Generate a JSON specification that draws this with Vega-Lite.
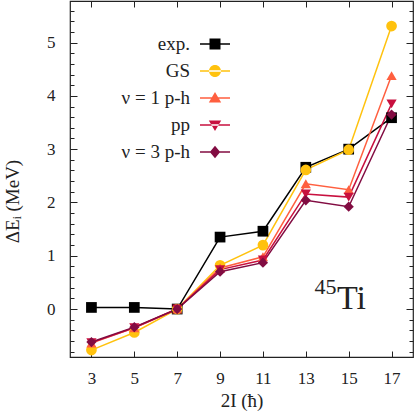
{
  "$schema": "https://vega.github.io/schema/vega-lite/v6.json",
  "width": 343,
  "height": 356,
  "autosize": {"type": "none"},
  "padding": {"left": 70, "top": 1, "right": 2, "bottom": 58},
  "background": "white",
  "config": {
    "view": {"stroke": "#222222", "strokeWidth": 1.2},
    "font": "Liberation Serif",
    "axis": {"domain": false, "grid": false, "tickColor": "#222222", "tickWidth": 1, "labelFont": "Liberation Serif", "labelFontSize": 17, "labelColor": "#222222", "titleFont": "Liberation Serif", "titleFontSize": 19, "titleFontWeight": "normal", "titleColor": "#222222"},
    "legend": {"labelFont": "Liberation Serif", "labelFontSize": 19, "labelColor": "#222222"}
  },
  "datasets": {
    "levels": [
      {"series": "exp.", "twoI": 3, "dE": 0.03},
      {"series": "exp.", "twoI": 5, "dE": 0.03},
      {"series": "exp.", "twoI": 7, "dE": 0.0},
      {"series": "exp.", "twoI": 9, "dE": 1.35},
      {"series": "exp.", "twoI": 11, "dE": 1.46},
      {"series": "exp.", "twoI": 13, "dE": 2.66},
      {"series": "exp.", "twoI": 15, "dE": 3.0},
      {"series": "exp.", "twoI": 17, "dE": 3.59},
      {"series": "GS", "twoI": 3, "dE": -0.77},
      {"series": "GS", "twoI": 5, "dE": -0.44},
      {"series": "GS", "twoI": 7, "dE": 0.0},
      {"series": "GS", "twoI": 9, "dE": 0.82},
      {"series": "GS", "twoI": 11, "dE": 1.2},
      {"series": "GS", "twoI": 13, "dE": 2.61},
      {"series": "GS", "twoI": 15, "dE": 2.99},
      {"series": "GS", "twoI": 17, "dE": 5.31},
      {"series": "ν = 1 p-h", "twoI": 3, "dE": -0.64},
      {"series": "ν = 1 p-h", "twoI": 5, "dE": -0.35},
      {"series": "ν = 1 p-h", "twoI": 7, "dE": 0.0},
      {"series": "ν = 1 p-h", "twoI": 9, "dE": 0.77},
      {"series": "ν = 1 p-h", "twoI": 11, "dE": 0.98},
      {"series": "ν = 1 p-h", "twoI": 13, "dE": 2.35},
      {"series": "ν = 1 p-h", "twoI": 15, "dE": 2.24},
      {"series": "ν = 1 p-h", "twoI": 17, "dE": 4.38},
      {"series": "pp", "twoI": 3, "dE": -0.63},
      {"series": "pp", "twoI": 5, "dE": -0.35},
      {"series": "pp", "twoI": 7, "dE": 0.0},
      {"series": "pp", "twoI": 9, "dE": 0.74},
      {"series": "pp", "twoI": 11, "dE": 0.92},
      {"series": "pp", "twoI": 13, "dE": 2.16},
      {"series": "pp", "twoI": 15, "dE": 2.1},
      {"series": "pp", "twoI": 17, "dE": 3.85},
      {"series": "ν = 3 p-h", "twoI": 3, "dE": -0.62},
      {"series": "ν = 3 p-h", "twoI": 5, "dE": -0.34},
      {"series": "ν = 3 p-h", "twoI": 7, "dE": 0.0},
      {"series": "ν = 3 p-h", "twoI": 9, "dE": 0.7},
      {"series": "ν = 3 p-h", "twoI": 11, "dE": 0.87},
      {"series": "ν = 3 p-h", "twoI": 13, "dE": 2.04},
      {"series": "ν = 3 p-h", "twoI": 15, "dE": 1.92},
      {"series": "ν = 3 p-h", "twoI": 17, "dE": 3.65}
    ],
    "labels": [
      {"txt": "Ti", "twoI": 14.45, "dE": 0.0, "sz": "big"},
      {"txt": "45", "twoI": 13.4, "dE": 0.29, "sz": "small"}
    ]
  },
  "layer": [
    {
      "data": {"name": "levels"},
      "mark": {"type": "line", "strokeWidth": 1.5},
      "encoding": {
        "x": {"field": "twoI", "type": "quantitative", "scale": {"domain": [2, 18], "nice": false, "zero": false},
              "axis": {"orient": "bottom", "values": [3, 5, 7, 9, 11, 13, 15, 17], "tickSize": -6, "labelPadding": 19, "title": "2I (ħ)", "titleY": 43, "titleBaseline": "middle", "titleFontStyle": "normal"}},
        "y": {"field": "dE", "type": "quantitative", "scale": {"domain": [-0.9, 5.78], "nice": false, "zero": false},
              "axis": {"orient": "left", "values": [0, 1, 2, 3, 4, 5], "tickSize": -7, "labelPadding": 22, "title": "ΔEᵢ (MeV)", "titleX": -58, "titleY": 200, "titleAngle": 270, "titleAlign": "center", "titleBaseline": "middle"}},
        "stroke": {"field": "series", "type": "nominal", "sort": ["exp.", "GS", "ν = 1 p-h", "pp", "ν = 3 p-h"],
                  "scale": {"domain": ["exp.", "GS", "ν = 1 p-h", "pp", "ν = 3 p-h"], "range": ["#000000", "#FFC20E", "#FF5F3F", "#C8103F", "#820C42"]}, "legend": null}
      }
    },
    {
      "data": {"name": "levels"},
      "transform": [{"filter": "datum.series === 'exp.'"}],
      "mark": {"type": "point", "filled": true, "opacity": 1, "size": 115, "shape": "square", "color": "#000000"},
      "encoding": {
        "x": {"field": "twoI", "type": "quantitative", "axis": {"orient": "top", "values": [3, 5, 7, 9, 11, 13, 15, 17], "tickSize": -6, "labels": false, "title": null}},
        "y": {"field": "dE", "type": "quantitative", "axis": {"orient": "right", "values": [0, 1, 2, 3, 4, 5], "tickSize": -7, "labels": false, "title": null}}
      }
    },
    {
      "data": {"name": "levels"},
      "transform": [{"filter": "datum.series === 'GS'"}],
      "mark": {"type": "point", "filled": true, "opacity": 1, "size": 115, "shape": "circle", "color": "#FFC20E"},
      "encoding": {
        "x": {"field": "twoI", "type": "quantitative", "axis": null},
        "y": {"field": "dE", "type": "quantitative", "axis": null}
      }
    },
    {
      "data": {"name": "levels"},
      "transform": [{"filter": "datum.series === 'ν = 1 p-h'"}],
      "mark": {"type": "point", "filled": true, "opacity": 1, "size": 105, "shape": "triangle-up", "color": "#FF5F3F"},
      "encoding": {
        "x": {"field": "twoI", "type": "quantitative", "axis": null},
        "y": {"field": "dE", "type": "quantitative", "axis": null}
      }
    },
    {
      "data": {"name": "levels"},
      "transform": [{"filter": "datum.series === 'pp'"}],
      "mark": {"type": "point", "filled": true, "opacity": 1, "size": 105, "shape": "triangle-down", "color": "#C8103F"},
      "encoding": {
        "x": {"field": "twoI", "type": "quantitative", "axis": null},
        "y": {"field": "dE", "type": "quantitative", "axis": null}
      }
    },
    {
      "data": {"name": "levels"},
      "transform": [{"filter": "datum.series === 'ν = 3 p-h'"}],
      "mark": {"type": "point", "filled": true, "opacity": 1, "size": 105, "shape": "diamond", "color": "#820C42"},
      "encoding": {
        "x": {"field": "twoI", "type": "quantitative", "axis": null},
        "y": {"field": "dE", "type": "quantitative", "axis": null}
      }
    },
    {
      "data": {"name": "levels"},
      "transform": [{"filter": "false"}],
      "mark": {"type": "point", "filled": true, "opacity": 1},
      "encoding": {
        "x": {"field": "twoI", "type": "quantitative", "axis": null},
        "y": {"field": "dE", "type": "quantitative", "axis": {"orient": "left", "values": [-0.8, -0.6, -0.4, -0.2, 0.2, 0.4, 0.6, 0.8, 1.2, 1.4, 1.6, 1.8, 2.2, 2.4, 2.6, 2.8, 3.2, 3.4, 3.6, 3.8, 4.2, 4.4, 4.6, 4.8, 5.2, 5.4, 5.6], "tickSize": -4, "labels": false, "title": null}},
        "color": {"field": "series", "type": "nominal",
                  "scale": {"domain": ["exp.", "GS", "ν = 1 p-h", "pp", "ν = 3 p-h"], "range": ["#000000", "#FFC20E", "#FF5F3F", "#C8103F", "#820C42"]},
                  "legend": {"title": null, "orient": "none", "legendX": 135, "legendY": 33, "symbolSize": 400, "symbolStrokeWidth": 0, "symbolOpacity": 1, "labelAlign": "right", "labelOffset": -35, "rowPadding": 7, "padding": 0}},
        "shape": {"field": "series", "type": "nominal",
                  "scale": {"domain": ["exp.", "GS", "ν = 1 p-h", "pp", "ν = 3 p-h"],
                            "range": [
                              "M-1.5,-0.075H1.5V0.075H-1.5Z M-0.55,-0.55H0.55V0.55H-0.55Z",
                              "M-1.5,-0.075H1.5V0.075H-1.5Z M-0.6,0A0.6,0.6 0 1,0 0.6,0A0.6,0.6 0 1,0 -0.6,0Z",
                              "M-1.5,-0.075H1.5V0.075H-1.5Z M0,-0.6L0.62,0.45H-0.62Z",
                              "M-1.5,-0.075H1.5V0.075H-1.5Z M0,0.6L0.62,-0.45H-0.62Z",
                              "M-1.5,-0.075H1.5V0.075H-1.5Z M0,-0.62L0.52,0L0,0.62L-0.52,0Z"
                            ]},
                  "legend": {"title": null, "orient": "none", "legendX": 135, "legendY": 33, "symbolSize": 400, "symbolStrokeWidth": 0, "symbolOpacity": 1, "labelAlign": "right", "labelOffset": -35, "rowPadding": 7, "padding": 0}}
      }
    },
    {
      "data": {"name": "labels"},
      "transform": [{"filter": "datum.sz === 'big'"}],
      "mark": {"type": "text", "fontSize": 34, "align": "left", "baseline": "alphabetic", "color": "#222222", "font": "Liberation Serif"},
      "encoding": {
        "x": {"field": "twoI", "type": "quantitative", "axis": null},
        "y": {"field": "dE", "type": "quantitative", "axis": {"orient": "right", "values": [-0.8, -0.6, -0.4, -0.2, 0.2, 0.4, 0.6, 0.8, 1.2, 1.4, 1.6, 1.8, 2.2, 2.4, 2.6, 2.8, 3.2, 3.4, 3.6, 3.8, 4.2, 4.4, 4.6, 4.8, 5.2, 5.4, 5.6], "tickSize": -4, "labels": false, "title": null}},
        "text": {"field": "txt"}
      }
    },
    {
      "data": {"name": "labels"},
      "transform": [{"filter": "datum.sz === 'small'"}],
      "mark": {"type": "text", "fontSize": 22, "align": "left", "baseline": "alphabetic", "color": "#222222", "font": "Liberation Serif"},
      "encoding": {
        "x": {"field": "twoI", "type": "quantitative", "axis": null},
        "y": {"field": "dE", "type": "quantitative", "axis": null},
        "text": {"field": "txt"}
      }
    }
  ],
  "resolve": {"axis": {"x": "independent", "y": "independent"}, "legend": {"color": "independent", "shape": "independent"}}
}
